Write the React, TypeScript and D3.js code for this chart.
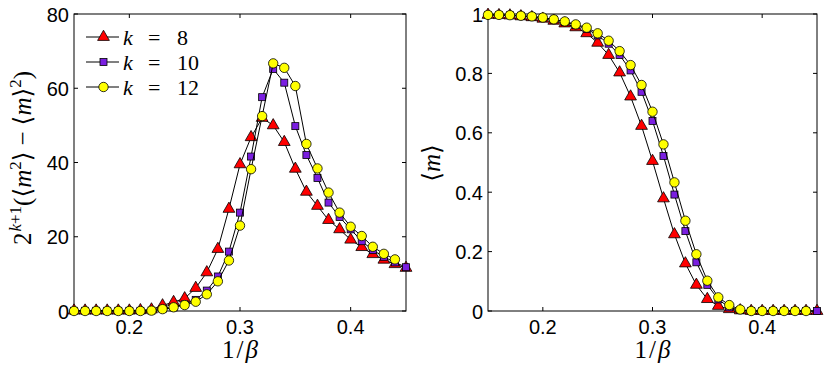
import React from 'react';
import * as d3 from 'd3';

// 1/beta values shared by all curves
const betaInv = [0.15, 0.16, 0.17, 0.18, 0.19, 0.2, 0.21, 0.22, 0.23, 0.24, 0.25, 0.26, 0.27, 0.28, 0.29, 0.3,
  0.31, 0.32, 0.33, 0.34, 0.35, 0.36, 0.37, 0.38, 0.39, 0.4, 0.41, 0.42, 0.43, 0.44, 0.45];

// left panel: 2^{k+1}(<m^2> - <m>^2)
const susK8 = [0.1, 0.1, 0.1, 0.1, 0.1, 0.1, 0.2, 0.4, 1.5, 2.4, 3.4, 6.2, 10.4, 16.7, 27.5, 39.5,
  46.8, 52.0, 50.0, 45.5, 38.3, 32.1, 28.3, 24.5, 22.0, 19.2, 17.2, 15.3, 13.8, 12.6, 11.6];
const susK10 = [0.05, 0.05, 0.05, 0.05, 0.05, 0.05, 0.05, 0.1, 0.5, 1.0, 1.8, 3.0, 5.5, 9.3, 16.0, 26.5,
  41.6, 57.6, 65.2, 61.5, 49.8, 42.0, 35.8, 29.2, 25.3, 22.0, 18.8, 16.4, 14.6, 13.1, 11.8];
const susK12 = [0, 0, 0, 0, 0, 0, 0, 0.1, 0.5, 1.0, 1.6, 2.5, 4.5, 8.0, 13.6, 23.0,
  38.2, 52.5, 66.7, 65.5, 60.6, 45.0, 38.4, 31.9, 26.5, 22.7, 20.2, 17.3, 15.4, 13.9];

// right panel: <m>
const magK8 = [0.997, 0.996, 0.995, 0.992, 0.989, 0.984, 0.977, 0.968, 0.955, 0.935, 0.903, 0.862, 0.803, 0.722, 0.623, 0.505,
  0.379, 0.258, 0.16, 0.088, 0.04, 0.017, 0.006, 0.002, 0, 0, 0, 0, 0, 0, 0];
const magK10 = [0.997, 0.997, 0.996, 0.994, 0.991, 0.987, 0.981, 0.973, 0.962, 0.95, 0.928, 0.9, 0.862, 0.81, 0.738, 0.64,
  0.522, 0.392, 0.269, 0.164, 0.088, 0.039, 0.012, 0.003, 0, 0, 0, 0, 0, 0, 0];
const magK12 = [0.997, 0.997, 0.996, 0.994, 0.992, 0.988, 0.982, 0.975, 0.965, 0.954, 0.935, 0.91, 0.875, 0.828, 0.761, 0.671,
  0.561, 0.433, 0.304, 0.191, 0.102, 0.046, 0.02, 0.005, 0, 0, 0, 0, 0, 0];

const xTicks = [0.2, 0.3, 0.4];
const susTicks = [0, 20, 40, 60, 80];
const magTicks = [0, 0.2, 0.4, 0.6, 0.8, 1];

const series = [
  { k: '8', shape: 'tri', color: '#ff0000' },
  { k: '10', shape: 'sq', color: '#7a1fe0' },
  { k: '12', shape: 'circ', color: '#ffff00' },
];

const SERIF = 'Liberation Serif, DejaVu Serif, serif';
const SANS = 'Liberation Sans, Arial, sans-serif';

function Marker({ shape, color, x, y }: { shape: string; color: string; x: number; y: number }) {
  if (shape === 'tri') {
    const s = d3.symbol().type(d3.symbolTriangle).size(60)();
    return <path d={s as string} transform={`translate(${x},${y})`} fill={color} stroke="#000" strokeWidth={0.8} />;
  }
  if (shape === 'sq') {
    return <rect x={x - 3.5} y={y - 3.5} width={7} height={7} fill={color} stroke="#000" strokeWidth={0.8} />;
  }
  return <circle cx={x} cy={y} r={4.7} fill={color} stroke="#000" strokeWidth={0.8} />;
}

function Panel({ left, right, yDomain, yTicks, data, fmt }: any) {
  const top = 14, bottom = 311;
  const x = d3.scaleLinear().domain([0.15, 0.45]).range([left, right]);
  const y = d3.scaleLinear().domain(yDomain).range([bottom, top]);
  const line = d3.line<number>().x((_, i) => x(betaInv[i])).y(d => y(d));
  return (
    <g>
      <rect x={left} y={top} width={right - left} height={bottom - top} fill="none" stroke="#000" strokeWidth={1} />
      {xTicks.map(t => (
        <g key={'x' + t}>
          <line x1={x(t)} x2={x(t)} y1={bottom} y2={bottom - 4} stroke="#000" />
          <line x1={x(t)} x2={x(t)} y1={top} y2={top + 4} stroke="#000" />
          <text x={x(t)} y={334} textAnchor="middle" fontFamily={SANS} fontSize={20}>{t.toFixed(1)}</text>
        </g>
      ))}
      {yTicks.map((t: number) => (
        <g key={'y' + t}>
          <line x1={left} x2={left + 4} y1={y(t)} y2={y(t)} stroke="#000" />
          <line x1={right} x2={right - 4} y1={y(t)} y2={y(t)} stroke="#000" />
          <text x={left - 5} y={y(t) + 7.5} textAnchor="end" fontFamily={SANS} fontSize={20}>{fmt(t)}</text>
        </g>
      ))}
      {data.map((vals: number[], si: number) => (
        <g key={si}>
          <path d={line(vals) as string} fill="none" stroke="#000" strokeWidth={1} />
          {vals.map((v, i) => (
            <Marker key={i} shape={series[si].shape} color={series[si].color} x={x(betaInv[i])} y={y(v)} />
          ))}
        </g>
      ))}
      <text x={(left + right) / 2} y={358} textAnchor="middle" fontFamily={SERIF} fontSize={25}>
        1<tspan dx={2}>/</tspan><tspan dx={2} fontStyle="italic">β</tspan>
      </text>
    </g>
  );
}

export default function App() {
  return (
    <svg width={830} height={373} style={{ display: 'block', position: 'absolute', left: 0, top: 0, background: '#fff' }}>
      <Panel left={74} right={406} yDomain={[0, 80]} yTicks={susTicks} data={[susK8, susK10, susK12]} fmt={(t: number) => String(t)} />
      <Panel left={488} right={817} yDomain={[0, 1]} yTicks={magTicks} data={[magK8, magK10, magK12]} fmt={(t: number) => (t === 0 || t === 1 ? String(t) : t.toFixed(1))} />
      {/* legend */}
      {series.map((s, i) => {
        const ly = 37 + i * 25;
        return (
          <g key={s.k}>
            <line x1={86} x2={119} y1={ly} y2={ly} stroke="#000" />
            <Marker shape={s.shape} color={s.color} x={103.5} y={ly} />
            <g fontFamily={SERIF} fontSize={22}>
              <text x={123} y={ly + 7.5} fontStyle="italic">k</text>
              <text x={148} y={ly + 7.5}>=</text>
              <text x={177} y={ly + 7.5}>{s.k}</text>
            </g>
          </g>
        );
      })}
      {/* y labels */}
      <text transform="translate(31,158) rotate(-90)" textAnchor="middle" fontFamily={SERIF} fontSize={25}>
        2<tspan fontSize={17} dy={-10} dx={1}><tspan fontStyle="italic">k</tspan>+1</tspan>
        <tspan dy={10}>(⟨<tspan fontStyle="italic">m</tspan></tspan>
        <tspan fontSize={17} dy={-10}>2</tspan>
        <tspan dy={10}>⟩<tspan dx={6}>−</tspan><tspan dx={6}>⟨</tspan><tspan fontStyle="italic">m</tspan>⟩</tspan>
        <tspan fontSize={17} dy={-10}>2</tspan>
        <tspan dy={10}>)</tspan>
      </text>
      <text transform="translate(440,163) rotate(-90)" textAnchor="middle" fontFamily={SERIF} fontSize={25}>
        ⟨<tspan fontStyle="italic">m</tspan>⟩
      </text>
    </svg>
  );
}
